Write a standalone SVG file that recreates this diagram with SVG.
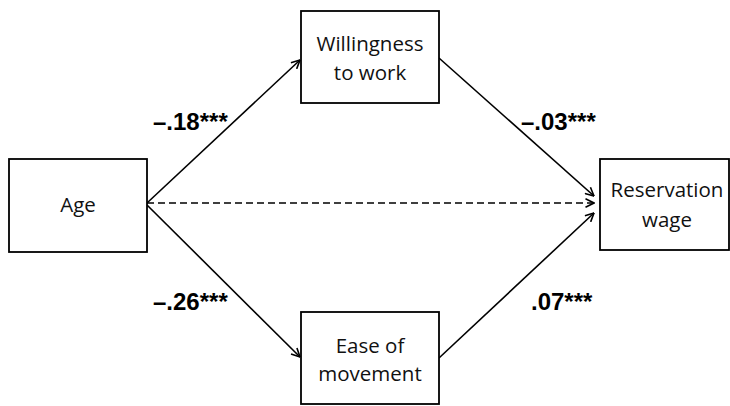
<svg xmlns="http://www.w3.org/2000/svg" width="730" height="406" viewBox="0 0 730 406">
<style>
.box{fill:#fff;stroke:#000;stroke-width:1.8}
.nt{font-family:"Open Sans","Liberation Sans",sans-serif;font-size:20.5px;fill:#111;text-anchor:middle}
.lb{font-family:"Liberation Sans",Arial,sans-serif;font-size:24px;font-weight:bold;fill:#000}
.ln{stroke:#000;stroke-width:1.6;fill:none}
.dash{stroke-dasharray:7 4}
</style>
<defs>
<marker id="arr" viewBox="0 0 10 10" refX="9.5" refY="5" markerWidth="10" markerHeight="10" markerUnits="userSpaceOnUse" orient="auto">
<path d="M1,0.8 L9.5,5 L1,9.2" fill="none" stroke="#000" stroke-width="1.6"/>
</marker>
</defs>
<rect width="730" height="406" fill="#fff"/>
<g id="connectors">
<line class="ln" x1="147" y1="203" x2="300" y2="60" marker-end="url(#arr)"/>
<line class="ln" x1="439" y1="58" x2="594" y2="196" marker-end="url(#arr)"/>
<line class="ln dash" x1="147" y1="203" x2="594" y2="203" marker-end="url(#arr)"/>
<line class="ln" x1="147" y1="205" x2="300" y2="357" marker-end="url(#arr)"/>
<line class="ln" x1="439" y1="358" x2="594" y2="213" marker-end="url(#arr)"/>
</g>
<g id="labels">
<text class="lb" x="153" y="130">–.18***</text>
<text class="lb" x="521" y="130">–.03***</text>
<text class="lb" x="153" y="310">–.26***</text>
<text class="lb" x="531" y="310">.07***</text>
</g>
<g id="age">
<rect class="box" x="9" y="159" width="138" height="93"/>
<text class="nt" x="78" y="212">Age</text>
</g>
<g id="willingness">
<rect class="box" x="301" y="11" width="138" height="92"/>
<text class="nt" x="370" y="51">Willingness</text>
<text class="nt" x="370" y="80">to work</text>
</g>
<g id="ease">
<rect class="box" x="301" y="312" width="138" height="92"/>
<text class="nt" x="370" y="353">Ease of</text>
<text class="nt" x="370" y="381">movement</text>
</g>
<g id="reservation">
<rect class="box" x="600" y="159" width="129" height="91"/>
<text class="nt" x="667" y="197">Reservation</text>
<text class="nt" x="667" y="227">wage</text>
</g>
</svg>
